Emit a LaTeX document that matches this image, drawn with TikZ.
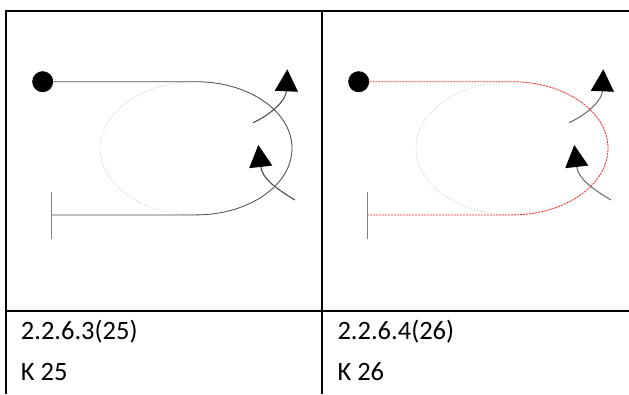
\documentclass[tikz,border=0pt]{standalone}
\usepackage{fontspec}
\setmainfont{Carlito}
\usetikzlibrary{arrows.meta}

\begin{document}
\begin{tikzpicture}[x=1pt, y=-1pt,
  frame/.style={line width=1.6pt, black},
  guide/.style={gray!65, line width=0.5pt, densely dotted},
  trackline/.style={black!70, line width=0.8pt},
  redtrack/.style={red!85, line width=0.8pt, dash pattern=on 2pt off 1pt},
  stopbar/.style={gray, line width=1.4pt},
  startdot/.style={circle, fill=black, minimum size=21pt, inner sep=0pt},
  turn/.style={line width=1pt, -{Triangle[length=22pt, width=23pt, color=black]}},
  celltext/.style={anchor=base west, inner sep=0pt, font=\fontsize{26.5}{31}\selectfont},
]
  \useasboundingbox (0,0) rectangle (629,394);

  % table lines
  \draw[frame] (6,394) -- (6,11) -- (629,11);
  \draw[frame] (322,11) -- (322,394);
  \draw[frame] (6,310.7) -- (629,310.7);

  % the two loop pictures
  \foreach \dx/\trk/\col/\n in {0/trackline/black!75/a, 316/redtrack/black!60/b} {
    \begin{scope}[xshift=\dx pt]
      \node[startdot] (dot\n) at (42.7,81.7) {};
      \coordinate (mid\n) at (196,148.3);
      \coordinate (top\n) at (196,81.7);
      \coordinate (end\n) at (51.7,215);
      \draw[guide] (mid\n) ellipse[x radius=96pt, y radius=66.6pt];
      \draw[\trk] (dot\n) -- (top\n) arc[start angle=90, end angle=-90, x radius=96pt, y radius=66.6pt] -- (end\n);
      \draw[stopbar] (51.7,191.7) -- (51.7,239);
      \draw[turn, \col] (253,122.7) .. controls (272,114) and (286,100) .. (287.3,69.3);
      \draw[turn, \col] (295,200) .. controls (275,188) and (262,178) .. (258.3,145);
    \end{scope}
  }

  \node[celltext] (codeA) at (20.7,339.3) {2.2.6.3(25)};
  \node[celltext] (nameA) at (20.7,380.7) {K 25};
  \node[celltext] (codeB) at (337.3,339.3) {2.2.6.4(26)};
  \node[celltext] (nameB) at (337.3,380.7) {K 26};
\end{tikzpicture}
\end{document}
